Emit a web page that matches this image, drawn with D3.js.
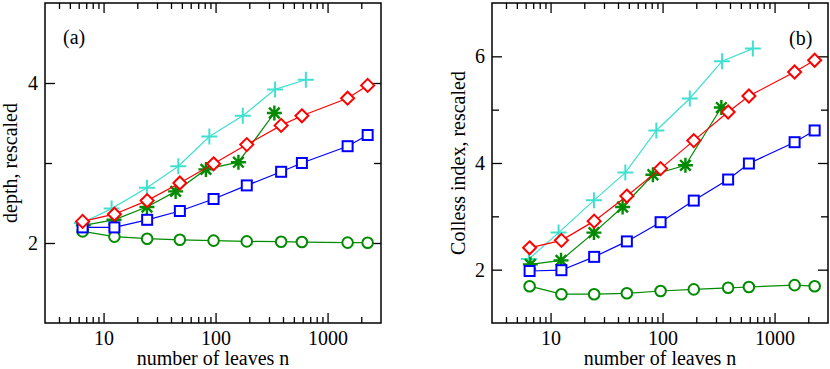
<!DOCTYPE html>
<html>
<head>
<meta charset="utf-8">
<script src="https://cdn.jsdelivr.net/npm/d3@7"></script>
<style>
  body { margin: 0; background: #fff; }
  svg { display: block; }
  text { font-family: "Liberation Serif", "Times New Roman", Times, serif; fill: #000; }
</style>
</head>
<body>
<div id="chart"></div>
<script>
// leaf counts (x values)
const nMain = [6.5, 12.5, 24.5, 48, 96, 190, 385, 590, 1510, 2280];
const nCyan = [6.4, 11.8, 24.4, 46.5, 88, 175, 340, 640];
const nStar = [6.6, 12.4, 24.4, 44, 82, 160, 335];

// panel (a): depth, rescaled
const depthCircle  = [2.145, 2.08, 2.054, 2.04, 2.03, 2.02, 2.016, 2.012, 2.005, 2.004];
const depthSquare  = [2.195, 2.195, 2.29, 2.40, 2.55, 2.72, 2.89, 3.0, 3.21, 3.35];
const depthDiamond = [2.27, 2.36, 2.53, 2.75, 2.99, 3.23, 3.47, 3.59, 3.81, 3.97];
const depthCyan    = [2.25, 2.43, 2.69, 2.96, 3.33, 3.59, 3.92, 4.04];
const depthStar    = [2.22, 2.29, 2.45, 2.645, 2.92, 3.01, 3.625];

// panel (b): Colless index, rescaled
const collessCircle  = [1.69, 1.54, 1.54, 1.557, 1.60, 1.63, 1.66, 1.675, 1.71, 1.69];
const collessSquare  = [1.975, 1.99, 2.24, 2.53, 2.89, 3.295, 3.69, 3.99, 4.39, 4.61];
const collessDiamond = [2.41, 2.55, 2.91, 3.38, 3.895, 4.42, 4.956, 5.256, 5.706, 5.926];
const collessCyan    = [2.2, 2.695, 3.30, 3.82, 4.61, 5.21, 5.91, 6.145];
const collessStar    = [2.1, 2.175, 2.695, 3.175, 3.78, 3.957, 5.04];

const xMajor = [10, 100, 1000];
const xMinor = [4,5,6,7,8,9,20,30,40,50,60,70,80,90,200,300,400,500,600,700,800,900,2000];

const w = 830, h = 369;
const green = "#008b00", cyan = "#40e0d0", red = "#ff0000", blue = "#0000ff";
const serif = "Liberation Serif, Times New Roman, serif";

const svg = d3.select("#chart")
    .append("svg")
    .attr("width", w)
    .attr("height", h);

function drawPanel(opt) {
    const left = opt.left, right = opt.left + 336, top = 3, bottom = 323;

    const xScale = d3.scaleLog()
        .domain([3, 3000])
        .range([left, right]);
    const yScale = d3.scaleLinear()
        .domain(opt.yDomain)
        .range([bottom, top]);

    const g = svg.append("g");

    // ticks, all pointing inward
    function addAxis(axis, transform) {
        const a = g.append("g")
            .attr("transform", transform)
            .call(axis);
        a.select(".domain").remove();
        a.selectAll("line").attr("stroke", "#000").attr("stroke-width", 1.3);
        a.selectAll("text").attr("font-size", 20).attr("font-family", serif);
        return a;
    }
    addAxis(d3.axisBottom(xScale).tickValues(xMajor).tickSize(-10).tickPadding(8)
        .tickFormat(d3.format("d")), `translate(0,${bottom})`);
    addAxis(d3.axisBottom(xScale).tickValues(xMinor).tickSize(-6).tickFormat(""), `translate(0,${bottom})`);
    addAxis(d3.axisTop(xScale).tickValues(xMajor).tickSize(-10).tickFormat(""), `translate(0,${top})`);
    addAxis(d3.axisTop(xScale).tickValues(xMinor).tickSize(-6).tickFormat(""), `translate(0,${top})`);
    addAxis(d3.axisLeft(yScale).tickValues(opt.yMajor).tickSize(-10).tickPadding(7)
        .tickFormat(d3.format("d")), `translate(${left},0)`);
    addAxis(d3.axisLeft(yScale).tickValues(opt.yMinor).tickSize(-7).tickFormat(""), `translate(${left},0)`);
    addAxis(d3.axisRight(yScale).tickValues(opt.yMajor).tickSize(-10).tickFormat(""), `translate(${right},0)`);
    addAxis(d3.axisRight(yScale).tickValues(opt.yMinor).tickSize(-7).tickFormat(""), `translate(${right},0)`);

    g.append("rect")
        .attr("x", left).attr("y", top)
        .attr("width", right - left).attr("height", bottom - top)
        .attr("fill", "none").attr("stroke", "#000").attr("stroke-width", 1.5);

    g.append("text")
        .attr("x", (left + right) / 2).attr("y", 365)
        .attr("text-anchor", "middle").attr("font-size", 20)
        .attr("font-family", serif)
        .text("number of leaves n");
    g.append("text")
        .attr("transform", `translate(${opt.titleX},${(top + bottom) / 2}) rotate(-90)`)
        .attr("text-anchor", "middle").attr("font-size", 20)
        .attr("font-family", serif)
        .text(opt.yTitle);
    g.append("text")
        .attr("x", opt.tagX).attr("y", opt.tagY)
        .attr("font-size", 20)
        .attr("font-family", serif)
        .text(opt.tag);

    const line = d3.line()
        .x(d => xScale(d[0]))
        .y(d => yScale(d[1]));

    opt.series.forEach(s => {
        const pts = s.x.map((v, i) => [v, s.y[i]]);
        const sg = g.append("g");
        sg.append("path")
            .datum(pts)
            .attr("fill", "none")
            .attr("stroke", s.color)
            .attr("stroke-width", 1.2)
            .attr("d", line);
        const m = sg.selectAll("g.m")
            .data(pts)
            .enter().append("g")
            .attr("transform", d => `translate(${xScale(d[0])},${yScale(d[1])})`)
            .attr("fill", "none")
            .attr("stroke", s.color)
            .attr("stroke-width", 2);
        if (s.marker === "circle") {
            m.append("circle").attr("r", 5.3).attr("fill", "#fff");
        } else if (s.marker === "square") {
            m.append("rect").attr("x", -5).attr("y", -5).attr("width", 10).attr("height", 10).attr("fill", "#fff");
        } else if (s.marker === "diamond") {
            m.append("path").attr("d", "M0,-6.5L6.5,0L0,6.5L-6.5,0Z").attr("fill", "#fff");
        } else if (s.marker === "plus") {
            m.append("path").attr("d", "M-8,0H8M0,-8V8");
        } else if (s.marker === "star") {
            m.attr("stroke-width", 2.4);
            m.append("path").attr("d", "M-7.5,0H7.5M0,-7.5V7.5M-5.3,-5.3L5.3,5.3M-5.3,5.3L5.3,-5.3");
        }
    });
}

drawPanel({
    left: 45,
    yDomain: [1, 5], yMajor: [2, 4], yMinor: [3],
    yTitle: "depth, rescaled", titleX: 17,
    tag: "(a)", tagX: 63, tagY: 44,
    series: [
        { x: nCyan, y: depthCyan, color: cyan, marker: "plus" },
        { x: nStar, y: depthStar, color: green, marker: "star" },
        { x: nMain, y: depthCircle, color: green, marker: "circle" },
        { x: nMain, y: depthSquare, color: blue, marker: "square" },
        { x: nMain, y: depthDiamond, color: red, marker: "diamond" }
    ]
});

drawPanel({
    left: 492,
    yDomain: [1, 7], yMajor: [2, 4, 6], yMinor: [3, 5],
    yTitle: "Colless index, rescaled", titleX: 465,
    tag: "(b)", tagX: 789, tagY: 45,
    series: [
        { x: nCyan, y: collessCyan, color: cyan, marker: "plus" },
        { x: nStar, y: collessStar, color: green, marker: "star" },
        { x: nMain, y: collessCircle, color: green, marker: "circle" },
        { x: nMain, y: collessSquare, color: blue, marker: "square" },
        { x: nMain, y: collessDiamond, color: red, marker: "diamond" }
    ]
});
</script>
</body>
</html>
